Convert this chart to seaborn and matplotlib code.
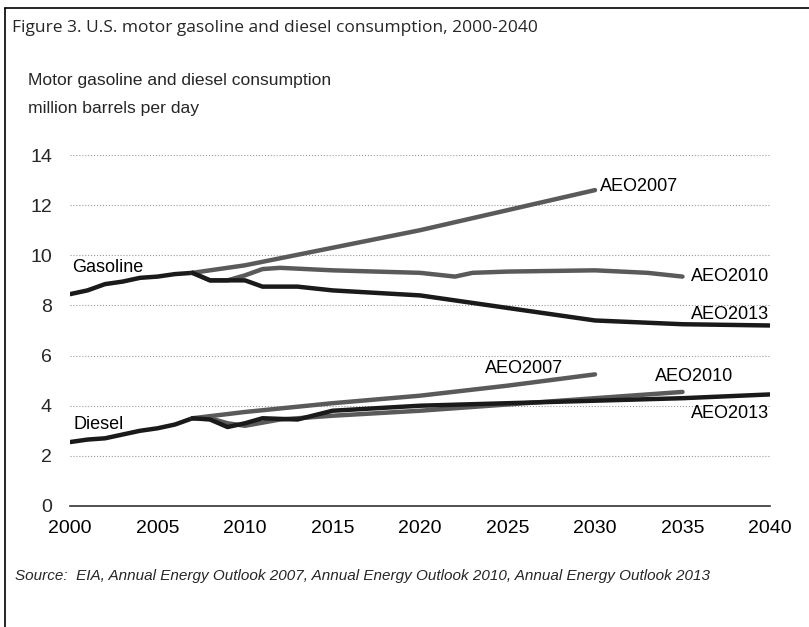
import pandas as pd
import matplotlib.pyplot as plt
import seaborn as sns
from matplotlib.lines import Line2D

# === data (million barrels per day) ===
hist_years = [2000, 2001, 2002, 2003, 2004, 2005, 2006, 2007]
gas_hist = [8.45, 8.6, 8.85, 8.95, 9.1, 9.15, 9.25, 9.3]
dsl_hist = [2.55, 2.65, 2.7, 2.85, 3.0, 3.1, 3.25, 3.5]

gas_aeo2007_years = [2007, 2010, 2015, 2020, 2025, 2030]
gas_aeo2007 = [9.3, 9.6, 10.3, 11.0, 11.8, 12.6]

gas_aeo2010_years = [2007, 2008, 2009, 2010, 2011, 2012, 2015, 2020, 2022, 2023, 2025, 2030, 2033, 2035]
gas_aeo2010 = [9.3, 9.0, 9.0, 9.2, 9.45, 9.5, 9.4, 9.3, 9.15, 9.3, 9.35, 9.4, 9.3, 9.15]

gas_aeo2013_years = [2007, 2008, 2009, 2010, 2011, 2012, 2013, 2015, 2020, 2025, 2030, 2035, 2040]
gas_aeo2013 = [9.3, 9.0, 9.0, 9.0, 8.75, 8.75, 8.75, 8.6, 8.4, 7.9, 7.4, 7.25, 7.2]

dsl_aeo2007_years = [2007, 2010, 2015, 2020, 2025, 2030]
dsl_aeo2007 = [3.5, 3.75, 4.1, 4.4, 4.8, 5.25]

dsl_aeo2010_years = [2007, 2008, 2009, 2010, 2012, 2015, 2020, 2025, 2030, 2035]
dsl_aeo2010 = [3.5, 3.5, 3.3, 3.2, 3.45, 3.6, 3.8, 4.05, 4.3, 4.55]

dsl_aeo2013_years = [2007, 2008, 2009, 2010, 2011, 2013, 2015, 2020, 2025, 2030, 2035, 2040]
dsl_aeo2013 = [3.5, 3.45, 3.15, 3.3, 3.5, 3.45, 3.8, 4.0, 4.1, 4.2, 4.3, 4.45]

sns.set_style('white')
plt.rcParams['font.family'] = ['Liberation Sans', 'DejaVu Sans']

fig = plt.figure(figsize=(8.09, 6.27), dpi=100)
ax = fig.add_axes([70 / 809, 1 - 506 / 627, 700 / 809, 351 / 627])

dark = '#1a1a1a'
grey = '#5a5a5a'
lw = 3.2

series = [
    (hist_years, gas_hist, dark),
    (gas_aeo2007_years, gas_aeo2007, grey),
    (gas_aeo2010_years, gas_aeo2010, grey),
    (gas_aeo2013_years, gas_aeo2013, dark),
    (hist_years, dsl_hist, dark),
    (dsl_aeo2007_years, dsl_aeo2007, grey),
    (dsl_aeo2010_years, dsl_aeo2010, grey),
    (dsl_aeo2013_years, dsl_aeo2013, dark),
]
for xs, ys, c in series:
    sns.lineplot(x=xs, y=ys, color=c, linewidth=lw, ax=ax)

ax.set_xlim(2000, 2040)
ax.set_ylim(0, 14)
ax.set_xticks(range(2000, 2041, 5))
ax.set_yticks(range(0, 15, 2))
ax.yaxis.grid(True, linestyle=':', color='#999999', linewidth=0.8)
for s in ['top', 'right', 'left']:
    ax.spines[s].set_visible(False)
ax.spines['bottom'].set_color('#333333')
ax.spines['bottom'].set_linewidth(1.2)
ax.tick_params(axis='x', direction='out', length=6, width=1, colors='#333333',
               labelsize=14, labelcolor='black', pad=4)
ax.tick_params(axis='y', length=0, labelsize=14, pad=13)

# series labels
lab = dict(fontsize=13, color='black', va='center')
ax.text(2000.1, 9.5, 'Gasoline', **lab)
ax.text(2000.2, 3.25, 'Diesel', **lab)
ax.text(2030.3, 12.75, 'AEO2007', **lab)
ax.text(2035.5, 9.17, 'AEO2010', **lab)
ax.text(2035.5, 7.65, 'AEO2013', **lab)
ax.text(2023.7, 5.5, 'AEO2007', **lab)
ax.text(2033.4, 5.18, 'AEO2010', **lab)
ax.text(2035.5, 3.7, 'AEO2013', **lab)

# header and footer text
fig.text(12 / 809, 1 - 28 / 627, 'Figure 3. U.S. motor gasoline and diesel consumption, 2000-2040',
         fontsize=12.5, family=['Open Sans', 'DejaVu Sans'], va='center')
fig.text(28 / 809, 1 - 80 / 627, 'Motor gasoline and diesel consumption',
         fontsize=12.6, va='center')
fig.text(28 / 809, 1 - 108 / 627, 'million barrels per day',
         fontsize=12.6, va='center')
fig.text(15 / 809, 1 - 576 / 627,
         'Source:  EIA, Annual Energy Outlook 2007, Annual Energy Outlook 2010, Annual Energy Outlook 2013',
         fontsize=11, style='italic', va='center')

# outer frame (top and left edges)
fig.lines.append(Line2D([5 / 809, 1], [1 - 8 / 627, 1 - 8 / 627], transform=fig.transFigure,
                        color='black', linewidth=1.2))
fig.lines.append(Line2D([5 / 809, 5 / 809], [0, 1 - 8 / 627], transform=fig.transFigure,
                        color='black', linewidth=1.2))

fig.savefig('out.png', dpi=100)
